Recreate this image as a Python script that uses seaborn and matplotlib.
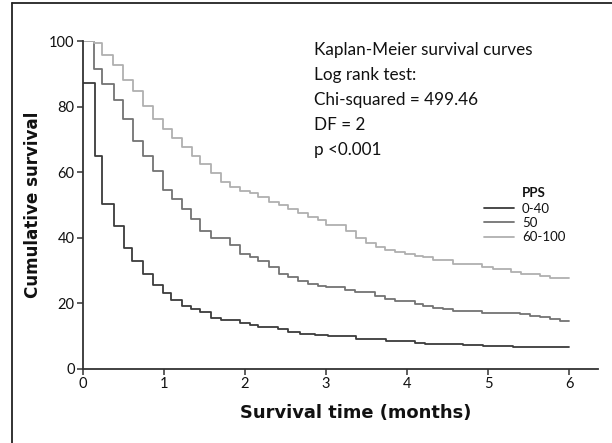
import matplotlib
matplotlib.use("Agg")
import matplotlib.pyplot as plt
from matplotlib.lines import Line2D
import numpy as np
import pandas as pd
import seaborn as sns

# Kaplan-Meier step curves: event times (months) and survival (%) after each step
t_low = [0, 0.148, 0.24, 0.383, 0.5, 0.61, 0.737, 0.868, 0.984, 1.086, 1.218, 1.333,
         1.444, 1.577, 1.704, 1.938, 2.06, 2.16, 2.41, 2.53, 2.68, 2.864, 3.02, 3.37,
         3.74, 4.1, 4.22, 4.69, 4.94, 5.31, 6.0]
s_low = [87.4, 65.0, 50.3, 43.7, 36.8, 32.9, 28.8, 25.5, 23.1, 20.9, 19.3, 18.1,
         17.3, 15.6, 14.8, 14.1, 13.5, 12.6, 12.2, 11.1, 10.6, 10.2, 9.9, 9.2,
         8.5, 8.0, 7.6, 7.2, 6.9, 6.6, 6.6]

t_mid = [0, 0.14, 0.24, 0.383, 0.498, 0.613, 0.737, 0.868, 0.99, 1.095, 1.218, 1.333,
         1.444, 1.576, 1.815, 1.938, 2.06, 2.16, 2.30, 2.42, 2.535, 2.66, 2.78, 2.905,
         3.0, 3.235, 3.358, 3.605, 3.728, 3.852, 4.099, 4.198, 4.321, 4.444, 4.568,
         4.92, 5.395, 5.519, 5.642, 5.765, 5.889, 6.0]
s_mid = [100, 91.6, 86.9, 82.2, 76.2, 69.6, 65.1, 60.3, 54.6, 51.9, 48.8, 45.8,
         42.2, 40.0, 37.9, 35.1, 34.1, 32.8, 31.0, 29.0, 28.0, 26.7, 25.8, 25.3,
         25.0, 24.0, 23.3, 22.1, 21.4, 20.7, 19.9, 19.2, 18.6, 18.1, 17.6,
         16.9, 16.6, 16.0, 15.8, 15.1, 14.6, 14.6]

t_high = [0, 0.14, 0.24, 0.375, 0.498, 0.613, 0.737, 0.868, 0.99, 1.095, 1.218, 1.34,
          1.444, 1.576, 1.7, 1.815, 1.938, 2.06, 2.16, 2.30, 2.42, 2.535, 2.66, 2.78,
          2.905, 3.0, 3.243, 3.367, 3.49, 3.614, 3.728, 3.852, 3.975, 4.099, 4.2,
          4.326, 4.57, 4.92, 5.065, 5.29, 5.407, 5.64, 5.765, 6.0]
s_high = [100, 99.4, 95.8, 92.8, 88.3, 84.8, 80.3, 76.4, 73.2, 70.4, 67.6, 65.1,
          62.5, 59.7, 56.9, 55.6, 54.4, 53.6, 52.4, 51.0, 50.0, 48.8, 47.5, 46.3,
          45.3, 44.0, 42.0, 40.0, 38.5, 37.1, 36.4, 35.6, 34.9, 34.5, 34.1,
          33.1, 32.1, 31.0, 30.6, 29.5, 29.0, 28.3, 27.7, 27.7]

groups = ["0-40", "50", "60-100"]
colors = {"0-40": "#3c3c3c", "50": "#737373", "60-100": "#b0b0b0"}

stats_lines = ["Kaplan-Meier survival curves", "Log rank test:",
               "Chi-squared = 499.46", "DF = 2", "p <0.001"]

df = pd.concat([
    pd.DataFrame({"time": t_low, "survival": s_low, "PPS": "0-40"}),
    pd.DataFrame({"time": t_mid, "survival": s_mid, "PPS": "50"}),
    pd.DataFrame({"time": t_high, "survival": s_high, "PPS": "60-100"}),
], ignore_index=True)

sns.set_theme(style="white")
plt.rcParams["font.family"] = ["Lato", "DejaVu Sans"]

W, H = 612, 443
fig = plt.figure(figsize=(W / 100, H / 100), dpi=100)
ax = fig.add_axes([83 / W, 1 - 368.7 / H, (598 - 83) / W, (368.7 - 41.3) / H])

sns.lineplot(data=df, x="time", y="survival", hue="PPS", hue_order=groups,
             palette=colors, estimator=None, sort=False, drawstyle="steps-post",
             linewidth=1.3, legend=False, ax=ax)

ax.set_xlim(0, (598 - 83) / 81)
ax.set_ylim(0, 100)
ax.set_xticks(range(0, 7))
ax.set_yticks(range(0, 101, 20))
for side in ("top", "right"):
    ax.spines[side].set_visible(False)
for side in ("left", "bottom"):
    ax.spines[side].set_color("#333333")
    ax.spines[side].set_linewidth(1.3)
ax.tick_params(axis="both", direction="out", length=4, width=1.1, color="#333333",
               labelsize=10.5, labelcolor="#111111", pad=2, left=True, bottom=True)

label_font = {"family": ["DejaVu Sans"], "weight": "bold", "color": "#111111"}
ax.set_xlabel("Survival time (months)", fontsize=12.9, **label_font)
ax.xaxis.set_label_coords((356 - 83) / (598 - 83), -(418 - 368.7) / (368.7 - 41.3))
ax.xaxis.label.set_va("baseline")
ax.set_ylabel("Cumulative survival", fontsize=12.1, **label_font)
ax.yaxis.set_label_coords(-(83 - 38) / (598 - 83), 0.5)
ax.yaxis.label.set_va("baseline")

for i, line in enumerate(stats_lines):
    fig.text(314 / W, 1 - (55 + 25 * i) / H, line, fontsize=12.3, color="#111111",
             ha="left", va="baseline")

handles = [Line2D([], [], color=colors[g], linewidth=1.3) for g in groups]
leg = ax.legend(handles, groups, loc="upper left",
                bbox_to_anchor=(484 / W, 1 - 203 / H), bbox_transform=fig.transFigure,
                frameon=False, fontsize=9.5, handlelength=2.25, handletextpad=0.62,
                labelspacing=0.16, borderpad=0, borderaxespad=0)
for txt in leg.get_texts():
    txt.set_color("#111111")
fig.text(521.7 / W, 1 - 197.3 / H, "PPS", fontsize=9.5, fontweight="bold",
         color="#111111", ha="left", va="baseline")

# outer frame edges
fig.add_artist(Line2D([12 / W, 1], [1 - 3 / H, 1 - 3 / H], transform=fig.transFigure,
                      color="#222222", linewidth=1.3))
fig.add_artist(Line2D([12 / W, 12 / W], [0, 1 - 3 / H], transform=fig.transFigure,
                      color="#222222", linewidth=1.3))

fig.savefig("out.png", dpi=100, facecolor="white")
